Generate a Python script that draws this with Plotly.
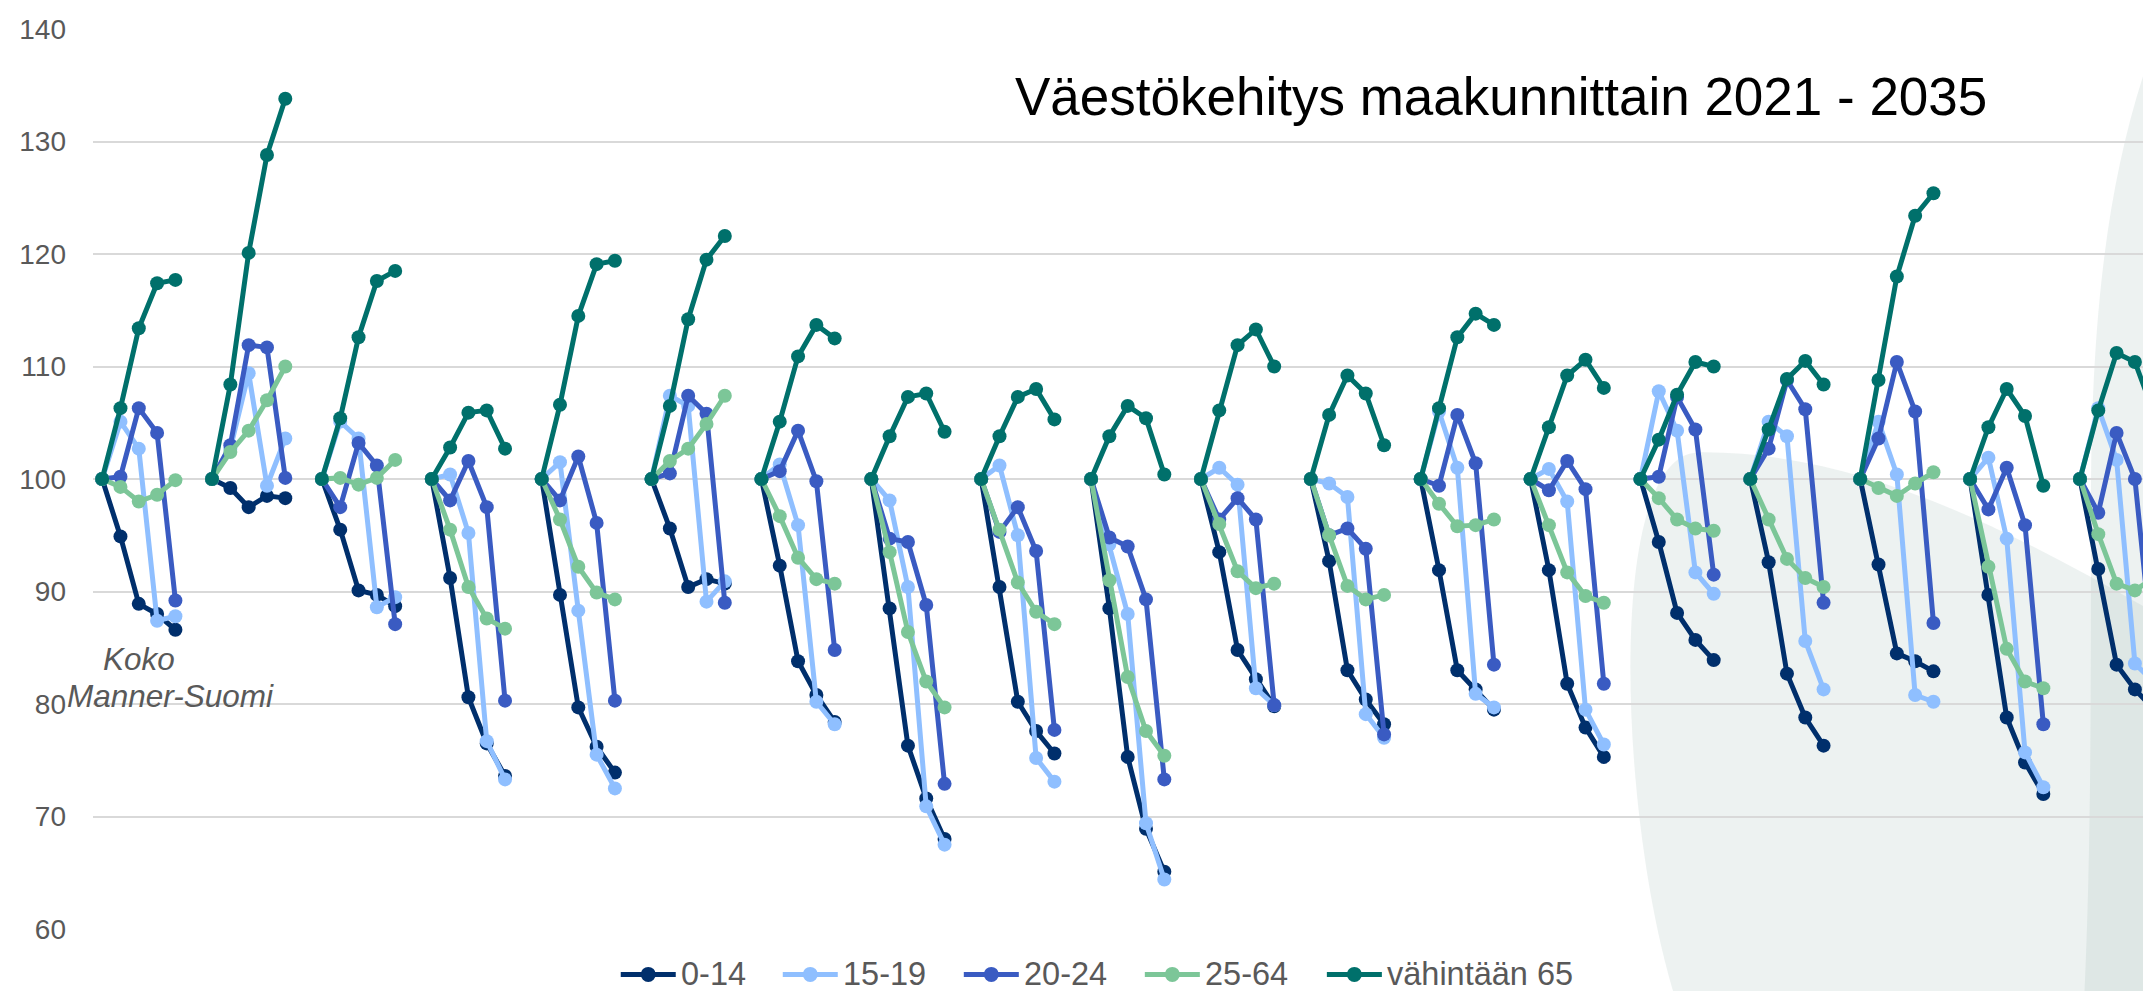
import plotly.graph_objects as go

# ---------------- data (index 2021 = 100), 19 regions x 5 points ----------------
series_names = ["0-14", "15-19", "20-24", "25-64", "vähintään 65"]
series_colors = ["#002F6C", "#8FBFFF", "#3A5BC2", "#7CC698", "#00706B"]

age_0_14 = [
    [100, 94.9, 88.9, 88.0, 86.6], [100, 99.2, 97.5, 98.5, 98.3], [100, 95.5, 90.1, 89.7, 88.7],
    [100, 91.2, 80.6, 76.5, 73.6], [100, 89.7, 79.7, 76.2, 73.9], [100, 95.6, 90.4, 91.1, 90.7],
    [100, 92.3, 83.8, 80.8, 78.4], [100, 88.5, 76.3, 71.6, 68.0], [100, 90.4, 80.2, 77.6, 75.6],
    [100, 88.5, 75.3, 68.9, 65.1], [100, 93.5, 84.8, 82.2, 79.8], [100, 92.7, 83.0, 80.4, 78.2],
    [100, 91.9, 83.0, 81.3, 79.5], [100, 91.9, 81.8, 77.9, 75.3], [100, 94.4, 88.1, 85.7, 83.9],
    [100, 92.6, 82.7, 78.8, 76.3], [100, 92.4, 84.5, 83.8, 82.9], [100, 89.7, 78.8, 74.8, 72.0],
    [100, 92.0, 83.5, 81.3, 79.6],
]
age_15_19 = [
    [100, 105.1, 102.7, 87.4, 87.8], [100, 102.7, 109.4, 99.4, 103.6], [100, 105.1, 103.6, 88.6, 89.5],
    [100, 100.4, 95.2, 76.7, 73.3], [100, 101.5, 88.3, 75.5, 72.5], [100, 107.4, 106.5, 89.1, 90.9],
    [100, 101.3, 95.9, 80.2, 78.2], [100, 98.1, 90.4, 70.9, 67.5], [100, 101.2, 95.0, 75.2, 73.1],
    [100, 94.2, 88.0, 69.4, 64.4], [100, 101.0, 99.5, 81.4, 79.9], [100, 99.6, 98.4, 79.1, 77.0],
    [100, 106.0, 101.0, 80.9, 79.7], [100, 100.9, 98.0, 79.5, 76.4], [100, 107.8, 104.3, 91.7, 89.8],
    [100, 105.1, 103.8, 85.6, 81.3], [100, 105.1, 100.4, 80.8, 80.2], [100, 101.9, 94.7, 75.7, 72.6],
    [100, 106.3, 101.7, 83.6, 82.0],
]
age_20_24 = [
    [100, 100.2, 106.3, 104.1, 89.2], [100, 103.0, 111.9, 111.7, 100.1], [100, 97.5, 103.2, 101.2, 87.1],
    [100, 98.1, 101.6, 97.5, 80.3], [100, 98.1, 102.0, 96.1, 80.3], [100, 100.5, 107.4, 105.8, 89.0],
    [100, 100.7, 104.3, 99.8, 84.8], [100, 94.7, 94.4, 88.8, 72.9], [100, 95.3, 97.5, 93.6, 77.7],
    [100, 94.8, 94.0, 89.3, 73.3], [100, 96.4, 98.3, 96.4, 79.9], [100, 95.0, 95.6, 93.8, 77.3],
    [100, 99.4, 105.7, 101.4, 83.5], [100, 99.0, 101.6, 99.1, 81.8], [100, 100.2, 107.3, 104.4, 91.5],
    [100, 102.7, 108.8, 106.2, 89.0], [100, 103.6, 110.4, 106.0, 87.2], [100, 97.3, 101.0, 95.9, 78.2],
    [100, 97.0, 104.1, 100.0, 84.0],
]
age_25_64 = [
    [100, 99.3, 98.0, 98.6, 99.9], [100, 102.4, 104.3, 107.0, 110.0], [100, 100.1, 99.5, 100.1, 101.7],
    [100, 95.5, 90.4, 87.6, 86.7], [100, 96.4, 92.2, 89.9, 89.3], [100, 101.6, 102.7, 104.9, 107.4],
    [100, 96.7, 93.0, 91.1, 90.7], [100, 93.5, 86.4, 82.0, 79.7], [100, 95.5, 90.8, 88.2, 87.1],
    [100, 91.0, 82.4, 77.6, 75.4], [100, 96.0, 91.8, 90.3, 90.7], [100, 95.0, 90.5, 89.3, 89.7],
    [100, 97.8, 95.8, 95.9, 96.4], [100, 95.9, 91.7, 89.6, 89.0], [100, 98.3, 96.4, 95.6, 95.4],
    [100, 96.4, 92.9, 91.2, 90.4], [100, 99.2, 98.5, 99.6, 100.6], [100, 92.2, 84.9, 82.0, 81.4],
    [100, 95.1, 90.7, 90.1, 91.2],
]
age_65_plus = [
    [100, 106.3, 113.4, 117.4, 117.7], [100, 108.4, 120.1, 128.8, 133.8], [100, 105.4, 112.6, 117.6, 118.5],
    [100, 102.8, 105.9, 106.1, 102.7], [100, 106.6, 114.5, 119.1, 119.4], [100, 106.5, 114.2, 119.5, 121.6],
    [100, 105.1, 110.9, 113.7, 112.5], [100, 103.8, 107.3, 107.6, 104.2], [100, 103.8, 107.3, 108.0, 105.3],
    [100, 103.8, 106.5, 105.4, 100.4], [100, 106.1, 111.9, 113.3, 110.0], [100, 105.7, 109.2, 107.6, 103.0],
    [100, 106.3, 112.6, 114.7, 113.7], [100, 104.6, 109.2, 110.6, 108.1], [100, 103.5, 107.5, 110.4, 110.0],
    [100, 104.4, 108.9, 110.5, 108.4], [100, 108.8, 118.0, 123.4, 125.4], [100, 104.6, 108.0, 105.6, 99.4],
    [100, 106.1, 111.2, 110.4, 106.0],
]
y_ticks = [60, 70, 80, 90, 100, 110, 120, 130, 140]
title_text = "Väestökehitys maakunnittain 2021 - 2035"
region_label = ["Koko", "Manner-Suomi"]

all_series = [age_0_14, age_15_19, age_20_24, age_25_64, age_65_plus]
slot = 6  # 5 points + 1 empty category between regions

# ---------------- layout geometry (pixels) ----------------
W, H = 2151, 991
STEP = 18.31                      # px per category
X0 = 94.5                         # px of first category
L, R, T, B = X0 - STEP / 2, 2151, 20.6, 920.6
X_MAX = (R - X0) / STEP


def px(X):
    return (X - L) / (R - L)


def py(Y):
    return (B - Y) / (B - T)


fig = go.Figure()
for name, color, data in zip(series_names, series_colors, all_series):
    xs, ys = [], []
    for g, vals in enumerate(data):
        for k, v in enumerate(vals):
            xs.append(g * slot + k)
            ys.append(v)
        xs.append(g * slot + 5)
        ys.append(None)
    fig.add_trace(go.Scatter(
        x=xs, y=ys, name=name, mode="lines+markers", connectgaps=False,
        line=dict(color=color, width=5),
        marker=dict(color=color, size=14),
        showlegend=False,
    ))

# background decoration (two translucent slide circles; their overlap is darker)
deco = "rgba(147,177,171,0.17)"
shapes = [
    dict(type="path", xref="paper", yref="paper", layer="below", line=dict(width=0), fillcolor=deco,
         path=(f"M {px(1669)},{py(995)} C {px(1612)},{py(820)} {px(1595)},{py(447)} {px(1690)},{py(444)} "
               f"C {px(1850)},{py(442)} {px(2000)},{py(520)} {px(2160)},{py(612)} "
               f"L {px(2160)},{py(995)} Z")),
    dict(type="path", xref="paper", yref="paper", layer="below", line=dict(width=0), fillcolor=deco,
         path=(f"M {px(2155)},{py(12)} C {px(2100)},{py(150)} {px(2083)},{py(300)} {px(2083)},{py(500)} "
               f"C {px(2083)},{py(700)} {px(2083)},{py(850)} {px(2076)},{py(995)} "
               f"L {px(2160)},{py(995)} L {px(2160)},{py(12)} Z")),
]

annotations = [
    dict(text=title_text, xref="paper", yref="paper", x=px(1493), y=py(88), xanchor="center", yanchor="middle",
         showarrow=False, font=dict(family="Liberation Sans, Arial", size=53, color="#000000")),
    dict(text=region_label[0], xref="paper", yref="paper", x=px(131), y=py(651), xanchor="center", yanchor="middle",
         showarrow=False, font=dict(family="Liberation Sans, Arial", size=31.5, color="#595959", style="italic")),
    dict(text=region_label[1], xref="paper", yref="paper", x=px(163), y=py(688), xanchor="center", yanchor="middle",
         showarrow=False, font=dict(family="Liberation Sans, Arial", size=31.5, color="#595959", style="italic")),
]

# legend drawn as line+dot symbols with text, like the original
legend_x = [613, 775, 956, 1137, 1319]
LEG_Y = 966
SYM = 55
for name, color, lx in zip(series_names, series_colors, legend_x):
    shapes.append(dict(type="line", xref="paper", yref="paper", x0=px(lx), x1=px(lx + SYM),
                       y0=py(LEG_Y), y1=py(LEG_Y), line=dict(color=color, width=5)))
    cx = lx + SYM / 2
    shapes.append(dict(type="circle", xref="paper", yref="paper", x0=px(cx - 7.5), x1=px(cx + 7.5),
                       y0=py(LEG_Y + 7.5), y1=py(LEG_Y - 7.5), line=dict(width=0), fillcolor=color))
    annotations.append(dict(text=name, xref="paper", yref="paper", x=px(lx + SYM + 4), y=py(LEG_Y),
                            xanchor="left", yanchor="middle", showarrow=False, borderpad=0,
                            font=dict(family="Liberation Sans, Arial", size=32.5, color="#595959")))

fig.update_layout(
    width=W, height=H,
    margin=dict(l=L, r=W - R, t=T, b=H - B, pad=0),
    paper_bgcolor="white", plot_bgcolor="rgba(0,0,0,0)",
    font=dict(family="Liberation Sans, Arial", color="#595959"),
    showlegend=False,
    shapes=shapes, annotations=annotations,
    xaxis=dict(range=[-0.5, X_MAX], showgrid=False, zeroline=False, showticklabels=False,
               showline=False, ticks=""),
    yaxis=dict(range=[60, 140], tickvals=y_ticks, showgrid=True, gridcolor="#D9D9D9", gridwidth=1.5,
               zeroline=False, showline=False, ticks="", ticklabelstandoff=26,
               tickfont=dict(size=28, color="#595959")),
)

fig.write_html("out.html")
